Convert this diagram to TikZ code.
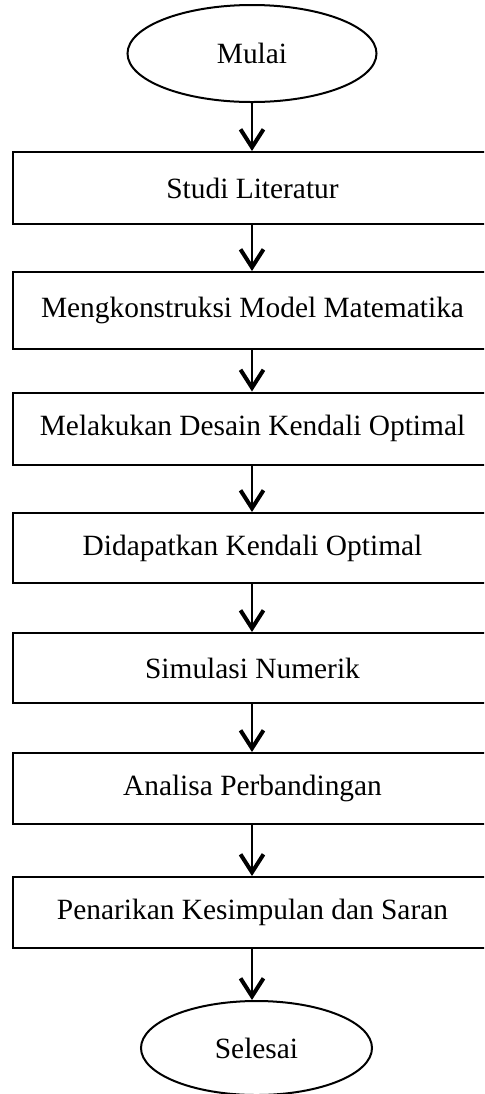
\documentclass[tikz,border=0pt]{standalone}
\usepackage{fontspec}
\setmainfont{Liberation Serif}
\usetikzlibrary{arrows.meta,shapes.geometric}

\begin{document}
\begin{tikzpicture}[x=0.5pt, y=-0.5pt,
    proc/.style={draw, line width=1pt, anchor=west, minimum width=250pt, minimum height=36pt, font=\fontsize{14.7}{17}\selectfont, execute at begin node={\kern-10.5pt}},
    term/.style={draw, ellipse, line width=1pt, inner sep=0pt, font=\fontsize{14.7}{17}\selectfont},
    arr/.style={-{Straight Barb[length=9pt, width=11.5pt, line width=2pt]}, line width=1pt}
]
\useasboundingbox (0,0) rectangle (484,1094);
\clip (0,0) rectangle (484,1094);
\node[term, minimum width=124.5pt, minimum height=48.5pt] (mulai) at (252,53.5) {Mulai};
\node[proc] (studi) at (12,188) {Studi Literatur};
\node[proc, minimum height=38.5pt] (model) at (12,310.5) {Mengkonstruksi Model Matematika};
\node[proc] (desain) at (12,428.5) {Melakukan Desain Kendali Optimal};
\node[proc, minimum height=35pt] (kendali) at (12,548) {Didapatkan Kendali Optimal};
\node[proc, minimum height=35pt] (simul) at (12,668) {Simulasi Numerik};
\node[proc, minimum height=35.5pt] (analisa) at (12,788.5) {Analisa Perbandingan};
\node[proc, minimum height=35.5pt] (simpul) at (12,912.5) {Penarikan Kesimpulan dan Saran};
\node[term, minimum width=115.5pt, minimum height=47pt] (selesai) at (256.5,1048) {Selesai};

\draw[arr] (mulai) -- (mulai |- studi.north);
\draw[arr] (studi.south -| mulai) -- (model.north -| mulai);
\draw[arr] (model.south -| mulai) -- (desain.north -| mulai);
\draw[arr] (desain.south -| mulai) -- (kendali.north -| mulai);
\draw[arr] (kendali.south -| mulai) -- (simul.north -| mulai);
\draw[arr] (simul.south -| mulai) -- (analisa.north -| mulai);
\draw[arr] (analisa.south -| mulai) -- (simpul.north -| mulai);
\draw[arr] (simpul.south -| mulai) -- (selesai.north -| mulai);
\end{tikzpicture}
\end{document}
